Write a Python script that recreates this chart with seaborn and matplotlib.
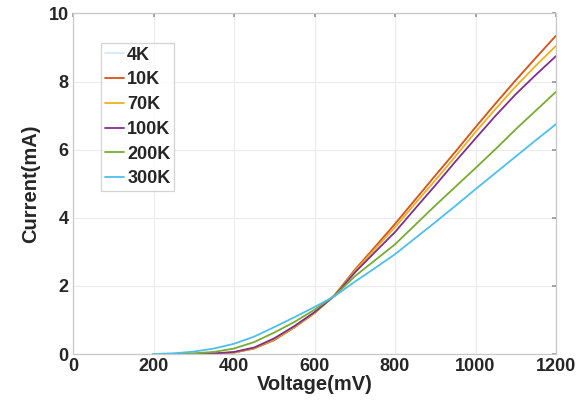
import numpy as np
import pandas as pd
import matplotlib
matplotlib.use("Agg")
import matplotlib.pyplot as plt
import seaborn as sns

voltage  = [200, 250, 300, 350, 400, 450, 500, 550, 600, 650, 700, 750, 800,
            850, 900, 950, 1000, 1050, 1100, 1150, 1200]
cur_4k   = [0.0, 0.0, 0.003, 0.01, 0.04, 0.16, 0.41, 0.78, 1.20, 1.73, 2.47, 3.14, 3.82,
            4.53, 5.24, 5.94, 6.66, 7.36, 8.04, 8.70, 9.35]
cur_10k  = [0.0, 0.0, 0.003, 0.01, 0.04, 0.16, 0.41, 0.78, 1.20, 1.73, 2.47, 3.14, 3.82,
            4.53, 5.24, 5.94, 6.66, 7.36, 8.04, 8.70, 9.35]
cur_70k  = [0.0, 0.0, 0.004, 0.012, 0.05, 0.17, 0.43, 0.79, 1.21, 1.72, 2.43, 3.08, 3.72,
            4.42, 5.10, 5.80, 6.52, 7.20, 7.86, 8.47, 9.05]
cur_100k = [0.0, 0.0, 0.005, 0.015, 0.06, 0.19, 0.46, 0.82, 1.23, 1.71, 2.39, 2.99, 3.58,
            4.27, 4.95, 5.65, 6.33, 7.00, 7.63, 8.20, 8.75]
cur_200k = [0.0, 0.005, 0.02, 0.06, 0.16, 0.35, 0.63, 0.94, 1.30, 1.71, 2.28, 2.75, 3.22,
            3.79, 4.36, 4.91, 5.46, 6.02, 6.60, 7.15, 7.70]
cur_300k = [0.0, 0.02, 0.07, 0.16, 0.30, 0.51, 0.79, 1.08, 1.38, 1.70, 2.12, 2.52, 2.93,
            3.40, 3.87, 4.35, 4.84, 5.32, 5.80, 6.28, 6.75]

labels = ["4K", "10K", "70K", "100K", "200K", "300K"]
series = [cur_4k, cur_10k, cur_70k, cur_100k, cur_200k, cur_300k]
colors = ["#d6e9f8", "#d95319", "#edb120", "#7e2f8e", "#77ac30", "#4dbeee"]

rows = []
for lab, ys in zip(labels, series):
    for v, c in zip(voltage, ys):
        rows.append({"Voltage": v, "Current": c, "T": lab})
df = pd.DataFrame(rows)

sns.set_theme(style="whitegrid")
plt.rcParams["font.family"] = ["Liberation Sans", "DejaVu Sans"]

W, H = 579, 419
L, R, T, B = 73, 556, 13.5, 354
fig = plt.figure(figsize=(W / 100, H / 100), dpi=100)
ax = fig.add_axes([L / W, 1 - B / H, (R - L) / W, (B - T) / H])
sns.lineplot(data=df, x="Voltage", y="Current", hue="T", hue_order=labels,
             palette=dict(zip(labels, colors)), linewidth=1.3, ax=ax)

ax.set_xlim(0, 1200)
ax.set_ylim(0, 10)
ax.set_xticks(range(0, 1201, 200))
ax.set_yticks(range(0, 11, 2))
ax.grid(True, color="#ebebeb", linewidth=0.8)
ax.set_facecolor("white")
for s in ax.spines.values():
    s.set_color("#c8c8c8")
    s.set_linewidth(0.9)
ax.tick_params(axis="both", direction="in", length=3, color="#999999",
               labelsize=13, pad=3, top=True, right=True)
for t in ax.get_xticklabels() + ax.get_yticklabels():
    t.set_fontweight("bold")
    t.set_color("#262626")
ax.set_xlabel("Voltage(mV)", fontsize=14.5, fontweight="bold", color="#262626", labelpad=0)
ax.set_ylabel("Current(mA)", fontsize=14.5, fontweight="bold", color="#262626", labelpad=6)

leg = ax.legend(loc="upper left", bbox_to_anchor=((101 - L) / (R - L), 1 - (43 - T) / (B - T)),
                borderaxespad=0, frameon=True, fancybox=False,
                handlelength=1.1, handletextpad=0.15, borderpad=0.2,
                labelspacing=0.43, prop={"weight": "bold", "size": 13})
leg.get_frame().set_edgecolor("#c8c8c8")
leg.get_frame().set_linewidth(0.9)
for t in leg.get_texts():
    t.set_color("#262626")

fig.savefig("out.png", dpi=100, facecolor="white")
